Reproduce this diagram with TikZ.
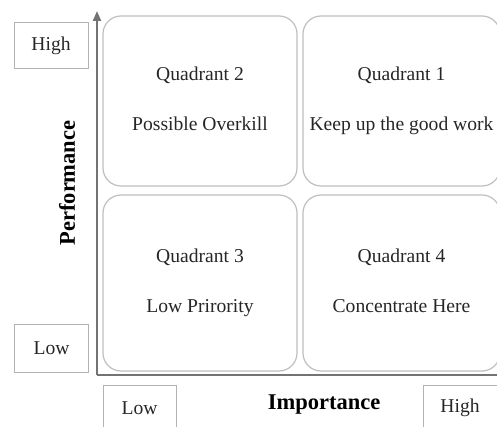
\documentclass[tikz,border=0pt]{standalone}
\usepackage{fontspec}
\setmainfont{Liberation Serif}
\usetikzlibrary{arrows.meta}

\begin{document}
\begin{tikzpicture}[x=1pt,y=-1pt,
        quad/.style={draw=black!25,line width=1.2pt,rounded corners=18pt,
                     minimum width=194pt,minimum height=170pt,inner sep=0pt,
                     align=center,text=black!85,font=\fontsize{19.6}{23}\selectfont},
        level/.style={draw=black!30,line width=1pt,minimum width=74pt,
                      minimum height=46pt,inner sep=0pt,text=black!85,
                      font=\fontsize{19.6}{23}\selectfont},
        axislabel/.style={font=\bfseries\fontsize{22.5}{26}\selectfont},
        axisline/.style={draw=black!55,line width=2pt}]

        \clip (0,0) rectangle (497,427);
        \useasboundingbox (0,0) rectangle (497,427);

        % quadrants
        \node[quad]  (Q2) at (200,101)   {\strut Quadrant 2\\[27pt]\strut Possible Overkill};
        \node[quad,minimum width=197pt]  (Q1) at (401.5,101) {\strut Quadrant 1\\[27pt]\strut Keep up the good work};
        \node[quad,minimum height=176pt] (Q3) at (200,283)   {\strut Quadrant 3\\[27pt]\strut Low Prirority};
        \node[quad,minimum width=197pt,minimum height=176pt] (Q4) at (401.5,283) {\strut Quadrant 4\\[27pt]\strut Concentrate Here};

        % axes
        \coordinate (O)  at (97,375);
        \coordinate (PT) at (97,11);
        \coordinate (IT) at (497,375);
        \draw[axisline,-{Triangle[width=8pt,length=10pt]}] (O) -- (PT);
        \draw[axisline] (O) -- (IT);

        % level boxes
        \node[level]                   (PHigh) at (51,45.5) {High};
        \node[level,minimum height=48pt] (PLow)  at (51.5,348) {Low};
        \node[level,minimum width=73pt]  (ILow)  at (139.5,408) {Low};
        \node[level]                   (IHigh) at (460,408) {High};

        % axis labels
        \node[axislabel,rotate=90] (perf) at (67,183) {Performance};
        \node[axislabel]           (imp)  at (324,405) {Importance};
\end{tikzpicture}
\end{document}
